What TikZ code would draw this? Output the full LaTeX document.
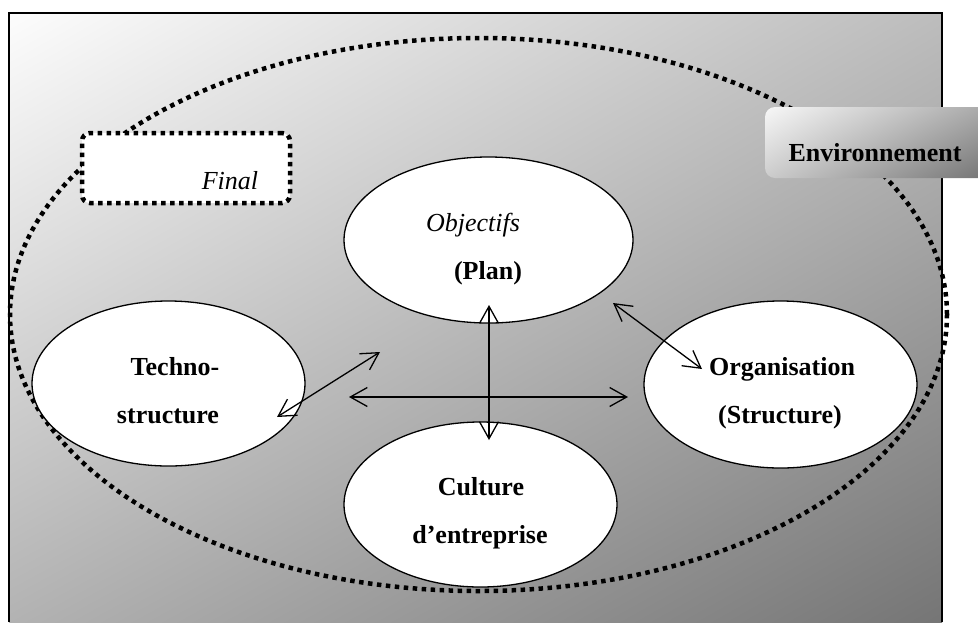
\documentclass[tikz,border=0pt]{standalone}
\usepackage{fontspec}
\setmainfont{Liberation Serif}
\usetikzlibrary{shapes.geometric,arrows.meta,shadings}
\definecolor{bgtl}{gray}{0.99}
\definecolor{bgtr}{gray}{0.74}
\definecolor{bgbl}{gray}{0.70}
\definecolor{bgbr}{gray}{0.46}
\definecolor{envtl}{gray}{0.97}
\definecolor{envtr}{gray}{0.66}
\definecolor{envbl}{gray}{0.80}
\definecolor{envbr}{gray}{0.45}
\begin{document}
\begin{tikzpicture}[x=1pt,y=-1pt,
  bubble/.style={ellipse,draw,fill=white,line width=1.3pt,inner sep=0pt},
  txt/.style={anchor=base,inner sep=0pt,font=\fontsize{26}{30}\selectfont},
  dots/.style={line width=4.5pt,dash pattern=on 4.5pt off 4.5pt},
  link/.style={line width=1.3pt,{Straight Barb[length=17pt,width=19pt]}-{Straight Barb[length=17pt,width=19pt]}}]
\useasboundingbox (0,0) rectangle (978,622);

% fond
\shade[upper left=bgtl,upper right=bgtr,lower left=bgbl,lower right=bgbr] (9,13) rectangle (942,622);
\draw[line width=1.5pt] (9,622) -- (9,13) -- (942,13) -- (942,622);

% environnement
\draw[dots] (478.5,314.5) ellipse [x radius=468.5pt, y radius=276.5pt];
\node[shade,rounded corners=10pt,minimum width=225pt,minimum height=71pt,
  upper left=envtl,upper right=envtr,lower left=envbl,lower right=envbr] (env) at (877.5,142.5) {};
\node[txt] (envtxt) at (875,161) {\textbf{Environnement}};

\node[draw,dots,fill=white,rounded corners=8pt,minimum width=208pt,minimum height=70pt] (final) at (186,168) {};
\node[txt] (finaltxt) at (230,189) {\textit{Final}};

% poles
\node[bubble,minimum width=289pt,minimum height=166pt] (plan) at (488.5,240) {};
\node[bubble,minimum width=273pt,minimum height=165pt] (techno) at (168.5,383.5) {};
\node[bubble,minimum width=273pt,minimum height=167pt] (orga) at (780.5,384.5) {};
\node[bubble,minimum width=273pt,minimum height=165pt] (culture) at (480.5,504.5) {};

\node[txt] (plan1) at (473,231) {\textit{Objectifs}};
\node[txt] (plan2) at (488,279) {\textbf{(Plan)}};
\node[txt] (techno1) at (175,375) {\textbf{Techno-}};
\node[txt] (techno2) at (168,423) {\textbf{structure}};
\node[txt] (orga1) at (782,375) {\textbf{Organisation}};
\node[txt] (orga2) at (780,423) {\textbf{(Structure)}};
\node[txt] (culture1) at (481,495) {\textbf{Culture}};
\node[txt] (culture2) at (480,543) {\textbf{d’entreprise}};

% liens
\coordinate (hl) at (349,397);
\coordinate (hr) at (628,397);
\coordinate (vt) at (489,305);
\coordinate (vb) at (489,440);
\coordinate (ll) at (277,417);
\coordinate (lu) at (380,352);
\coordinate (ru) at (613,303);
\coordinate (rl) at (702,369);

\draw[link] (hl) -- (hr);
\draw[link] (vt) -- (vb);
\draw[link] (ll) -- (lu);
\draw[link] (ru) -- (rl);
\end{tikzpicture}
\end{document}
